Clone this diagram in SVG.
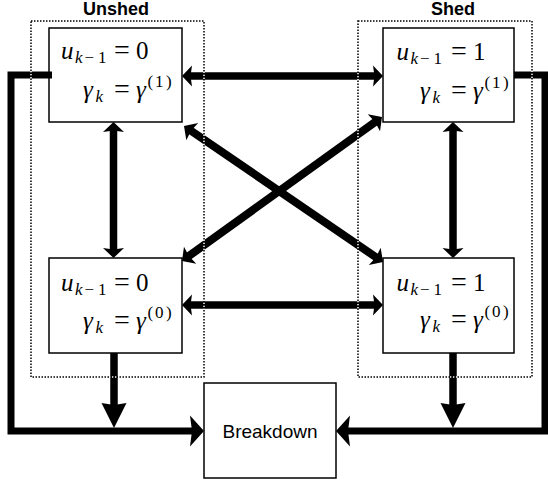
<svg xmlns="http://www.w3.org/2000/svg" xmlns:xlink="http://www.w3.org/1999/xlink" width="548" height="483" viewBox="0 0 548 483">
  <style>
    .node { fill: #fff; stroke: #000; stroke-width: 1.5; }
    .m { font-family: "Liberation Serif", "Times New Roman", serif; font-size: 25px; fill: #000; }
    .s { font-family: "Liberation Serif", "Times New Roman", serif; font-size: 17px; fill: #000; }
    .eq { font-family: "Liberation Serif", "Times New Roman", serif; font-size: 28px; fill: #000; text-anchor: middle; }
    .i { font-style: italic; }
    .lbl { font-family: "Liberation Sans", Arial, sans-serif; font-size: 18px; font-weight: bold; fill: #000; text-anchor: middle; }
    .bd { font-family: "Liberation Sans", Arial, sans-serif; font-size: 19px; fill: #000; text-anchor: middle; }
    .shaft { fill: none; stroke: #000; stroke-width: 7.5; stroke-linecap: butt; stroke-linejoin: miter; }
    .diag { fill: none; stroke: #000; stroke-width: 8; stroke-linecap: butt; }
    .outer { fill: none; stroke: #000; stroke-width: 7; stroke-linecap: butt; stroke-linejoin: miter; }
    .grpB { fill: none; stroke: #000; stroke-width: 1.5; stroke-dasharray: 1.5 1.5; }
    .grpW { fill: none; stroke: #fff; stroke-width: 1.5; stroke-dasharray: 1.5 1.5; stroke-dashoffset: 1.5; }
  </style>
  <defs>
    <!-- arrowheads, tip at origin, pointing along +x -->
    <path id="hs" d="M0,0 L-10,-10.5 L-8.5,0 L-10,10.5 Z" fill="#000"/>
    <path id="hb" d="M0,0 L-14,-15.5 L-12,0 L-14,15.5 Z" fill="#000"/>
    <path id="hv" d="M0,0 L-25,-12.5 L-23,0 L-25,12.5 Z" fill="#000"/>
  </defs>

  <rect width="548" height="483" fill="#fff"/>

  <!-- group labels -->
  <text class="lbl" x="116" y="15">Unshed</text>
  <text class="lbl" x="453" y="15">Shed</text>

  <!-- state nodes -->
  <g id="unshed-g1" transform="translate(49,28)">
    <rect class="node" width="133" height="94"/>
    <text class="m i" x="12" y="31">u</text>
    <text class="s" y="35"><tspan class="i" x="26">k</tspan><tspan x="35.5">−</tspan><tspan x="49">1</tspan></text>
    <text class="eq" x="73" y="31">=</text>
    <text class="m" x="87" y="31">0</text>
    <text class="m i" x="34" y="70">γ</text>
    <text class="s i" x="46.5" y="74">k</text>
    <text class="eq" x="73" y="70">=</text>
    <text class="m i" x="87" y="70">γ</text>
    <text class="s" y="58.5"><tspan x="98.5">(</tspan><tspan x="106">1</tspan><tspan x="117">)</tspan></text>
  </g>

  <g id="shed-g1" transform="translate(383,28)">
    <rect class="node" width="131" height="94"/>
    <text class="m i" x="13.5" y="32">u</text>
    <text class="s" y="36"><tspan class="i" x="27.5">k</tspan><tspan x="37">−</tspan><tspan x="50.5">1</tspan></text>
    <text class="eq" x="76" y="32">=</text>
    <text class="m" x="90" y="32">1</text>
    <text class="m i" x="37" y="71">γ</text>
    <text class="s i" x="49.5" y="75">k</text>
    <text class="eq" x="76" y="71">=</text>
    <text class="m i" x="90" y="71">γ</text>
    <text class="s" y="59.5"><tspan x="101.5">(</tspan><tspan x="109">1</tspan><tspan x="120">)</tspan></text>
  </g>

  <g id="unshed-g0" transform="translate(49,258)">
    <rect class="node" width="133" height="95"/>
    <text class="m i" x="12" y="33">u</text>
    <text class="s" y="37"><tspan class="i" x="26">k</tspan><tspan x="35.5">−</tspan><tspan x="49">1</tspan></text>
    <text class="eq" x="73" y="33">=</text>
    <text class="m" x="87" y="33">0</text>
    <text class="m i" x="34" y="71">γ</text>
    <text class="s i" x="46.5" y="75">k</text>
    <text class="eq" x="73" y="71">=</text>
    <text class="m i" x="87" y="71">γ</text>
    <text class="s" y="59.5"><tspan x="98.5">(</tspan><tspan x="106">0</tspan><tspan x="117">)</tspan></text>
  </g>

  <g id="shed-g0" transform="translate(383,258)">
    <rect class="node" width="131" height="95"/>
    <text class="m i" x="13.5" y="33">u</text>
    <text class="s" y="37"><tspan class="i" x="27.5">k</tspan><tspan x="37">−</tspan><tspan x="50.5">1</tspan></text>
    <text class="eq" x="76" y="33">=</text>
    <text class="m" x="90" y="33">1</text>
    <text class="m i" x="37" y="70">γ</text>
    <text class="s i" x="49.5" y="74">k</text>
    <text class="eq" x="76" y="70">=</text>
    <text class="m i" x="90" y="70">γ</text>
    <text class="s" y="58.5"><tspan x="101.5">(</tspan><tspan x="109">0</tspan><tspan x="120">)</tspan></text>
  </g>

  <g id="breakdown">
    <rect class="node" x="204" y="383" width="132" height="95"/>
    <text class="bd" x="270" y="438">Breakdown</text>
  </g>

  <!-- connectors -->
  <g id="connectors">
    <!-- top row: unshed g1 <-> shed g1 -->
    <line class="shaft" x1="190" y1="76" x2="375" y2="76"/>
    <use xlink:href="#hs" transform="translate(182,76) rotate(180)"/>
    <use xlink:href="#hs" transform="translate(383,76)"/>

    <!-- bottom row: unshed g0 <-> shed g0 -->
    <line class="shaft" x1="190" y1="305" x2="375" y2="305"/>
    <use xlink:href="#hs" transform="translate(182,305) rotate(180)"/>
    <use xlink:href="#hs" transform="translate(383,305)"/>

    <!-- verticals -->
    <line class="shaft" x1="113.5" y1="130" x2="113.5" y2="250"/>
    <use xlink:href="#hs" transform="translate(113.5,122) rotate(-90)"/>
    <use xlink:href="#hs" transform="translate(113.5,258) rotate(90)"/>
    <line class="shaft" x1="453" y1="130" x2="453" y2="250"/>
    <use xlink:href="#hs" transform="translate(453,122) rotate(-90)"/>
    <use xlink:href="#hs" transform="translate(453,258) rotate(90)"/>

    <!-- diagonals -->
    <line class="diag" x1="190.6" y1="130.5" x2="376.4" y2="257.5"/>
    <use xlink:href="#hs" transform="translate(184,126) rotate(214.35)"/>
    <use xlink:href="#hs" transform="translate(383,262) rotate(34.35)"/>
    <line class="diag" x1="375.5" y1="121.7" x2="188.5" y2="256.3"/>
    <use xlink:href="#hs" transform="translate(382,117) rotate(-35.75)"/>
    <use xlink:href="#hs" transform="translate(182,261) rotate(144.25)"/>

    <!-- outer paths to breakdown -->
    <path class="outer" d="M52,75 H11 V431 H193"/>
    <use xlink:href="#hb" transform="translate(204,431)"/>
    <path class="outer" d="M514,75 H545 V431 H347"/>
    <use xlink:href="#hb" transform="translate(336,431) rotate(180)"/>

    <!-- g0 states drop into the breakdown paths -->
    <line class="shaft" x1="114" y1="353" x2="114" y2="406"/>
    <use xlink:href="#hv" transform="translate(114,428) rotate(90)"/>
    <line class="shaft" x1="453" y1="353" x2="453" y2="406"/>
    <use xlink:href="#hv" transform="translate(453,428) rotate(90)"/>
  </g>

  <!-- group frames -->
  <g id="frames">
    <rect class="grpW" x="31" y="21" width="173" height="356"/>
    <rect class="grpB" x="31" y="21" width="173" height="356"/>
    <rect class="grpW" x="358" y="21" width="174" height="356"/>
    <rect class="grpB" x="358" y="21" width="174" height="356"/>
  </g>
</svg>
